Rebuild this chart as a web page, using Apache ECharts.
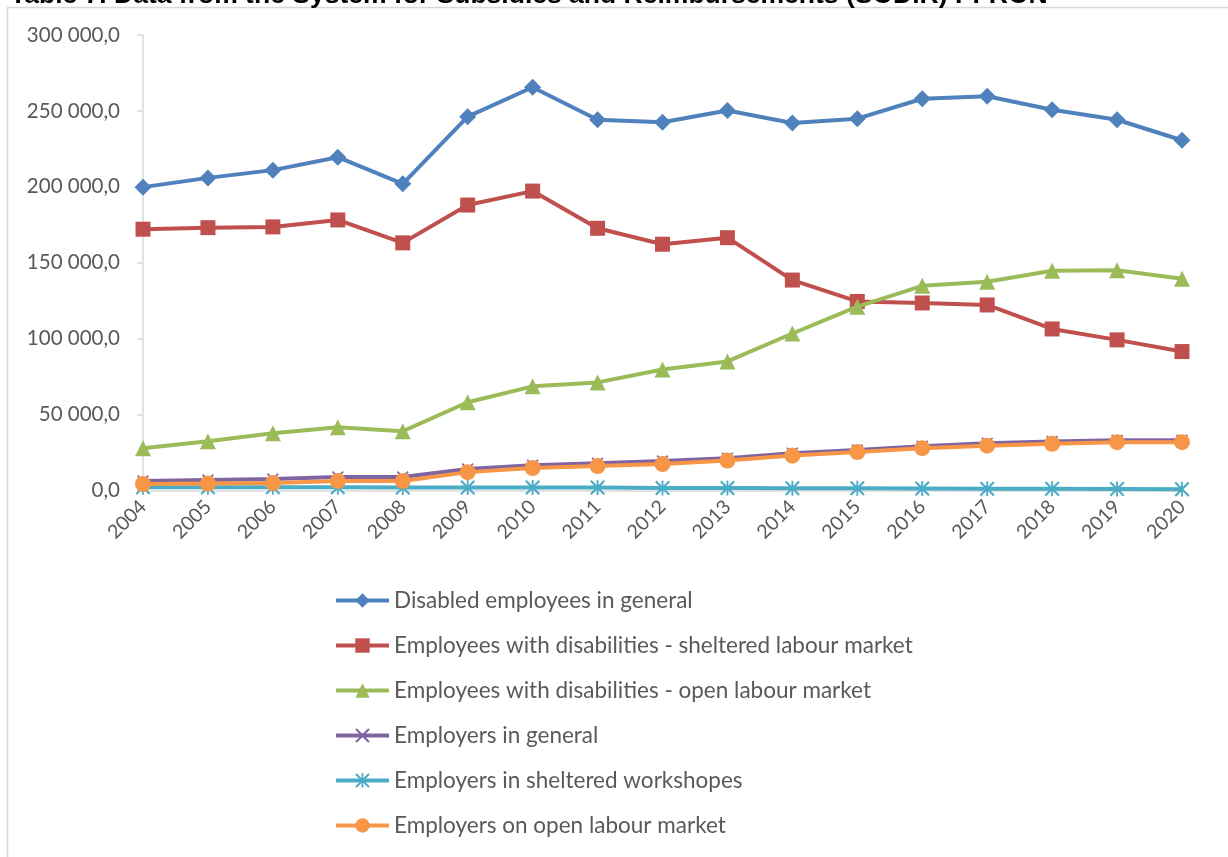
<!DOCTYPE html>
<html>
<head>
<meta charset="utf-8">
<script src="https://cdn.jsdelivr.net/npm/echarts@6/dist/echarts.min.js"></script>
<style>
  html, body { margin: 0; padding: 0; background: #ffffff; }
  #chart { width: 1228px; height: 857px; }
</style>
</head>
<body>
<div id="chart"></div>
<script>
// Years on the horizontal axis
const years = ['2004','2005','2006','2007','2008','2009','2010','2011','2012','2013','2014','2015','2016','2017','2018','2019','2020'];

// Series values (persons / entities)
const disabledEmployeesGeneral = [199800, 205900, 211000, 219500, 202000, 246200, 265600, 244200, 242500, 250300, 242000, 244900, 258000, 259700, 250800, 244200, 230700];
const employeesSheltered      = [172100, 173100, 173600, 178200, 163100, 188000, 197200, 172700, 162200, 166500, 138600, 124500, 123500, 122200, 106400, 99200, 91500];
const employeesOpen           = [27900, 32500, 37700, 41700, 39000, 58100, 68600, 71200, 79700, 85000, 103400, 121100, 134800, 137500, 144700, 145000, 139400];
const employersGeneral        = [6200, 6900, 7500, 8900, 8900, 14100, 16700, 18000, 19400, 21300, 24600, 26600, 29200, 31200, 32200, 33100, 33100];
const employersSheltered      = [2100, 2100, 2100, 2100, 2000, 2000, 2000, 1900, 1700, 1600, 1500, 1400, 1300, 1200, 1100, 1000, 900];
const employersOpen           = [4300, 4600, 4900, 6200, 6200, 12100, 14800, 16100, 17400, 19700, 23000, 25300, 27900, 29500, 30800, 31800, 31800];

const seriesNames = [
  'Disabled employees in general',
  'Employees with disabilities - sheltered labour market',
  'Employees with disabilities - open labour market',
  'Employers in general',
  'Employers in sheltered workshopes',
  'Employers on open labour market'
];

const titleText = 'Table 7. Data from the System for Subsidies and Reimbursements (SODiR) PFRON';

// Marker shapes: an "x" cross and an asterisk drawn as filled thin paths
const xMark = 'path://M1,0 L5,4 L9,0 L10,1 L6,5 L10,9 L9,10 L5,6 L1,10 L0,9 L4,5 L0,1 Z';
const starMark = 'path://M1,0 L5,4 L9,0 L10,1 L6,5 L10,9 L9,10 L5,6 L1,10 L0,9 L4,5 L0,1 Z M4.4,0 L5.6,0 L5.6,10 L4.4,10 Z';

const colors = ['#4F81BD', '#C0504D', '#9BBB59', '#8064A2', '#4BACC6', '#F79646'];
const symbols = ['diamond', 'rect', 'triangle', xMark, starMark, 'circle'];
const symbolSizes = [17, 15, 16, 12, 15, 16];
const values = [disabledEmployeesGeneral, employeesSheltered, employeesOpen, employersGeneral, employersSheltered, employersOpen];

function fmt(v) {
  const intPart = Math.round(v).toString().replace(/\B(?=(\d{3})+$)/g, ' ');
  return intPart + ',0';
}

const chart = echarts.init(document.getElementById('chart'), null, { renderer: 'canvas' });

chart.setOption({
  backgroundColor: '#ffffff',
  animation: false,
  color: colors,
  graphic: [
    {
      type: 'rect',
      shape: { x: 7.5, y: 7.5, width: 1240, height: 870 },
      style: { fill: 'none', stroke: '#d9d9d9', lineWidth: 1.5 },
      silent: true
    },
    {
      type: 'text',
      x: 10,
      y: -18,
      style: {
        text: titleText,
        font: 'bold 26.5px "Liberation Sans", Arial, sans-serif',
        fill: '#000000',
        verticalAlign: 'top'
      },
      silent: true
    }
  ],
  grid: { left: 143, right: 46, top: 35, bottom: 366.5, containLabel: false },
  legend: {
    orient: 'vertical',
    left: 334,
    top: 588,
    padding: 0,
    itemWidth: 53,
    itemHeight: 18,
    itemGap: 20,
    lineStyle: { width: 4 },
    textStyle: { color: '#595959', fontSize: 22.5, fontFamily: 'Lato, "Open Sans", sans-serif', lineHeight: 25 },
    data: seriesNames
  },
  xAxis: {
    type: 'category',
    data: years,
    boundaryGap: false,
    axisLine: { show: true, lineStyle: { color: '#d9d9d9', width: 1.5 } },
    axisTick: { show: false },
    splitLine: { show: false },
    axisLabel: {
      rotate: 45,
      margin: 13,
      color: '#595959',
      fontSize: 19.5,
      fontFamily: 'Lato, "Open Sans", sans-serif'
    }
  },
  yAxis: {
    type: 'value',
    min: 0,
    max: 300000,
    interval: 50000,
    axisLine: { show: true, lineStyle: { color: '#d9d9d9', width: 1.5 } },
    axisTick: { show: true, length: 6, lineStyle: { color: '#d9d9d9', width: 1.5 } },
    splitLine: { show: false },
    axisLabel: {
      margin: 23,
      color: '#595959',
      fontSize: 20.5,
      fontFamily: 'Lato, "Open Sans", sans-serif',
      formatter: fmt
    }
  },
  series: values.map((vals, i) => ({
    name: seriesNames[i],
    type: 'line',
    data: vals,
    symbol: symbols[i],
    symbolSize: symbolSizes[i],
    showAllSymbol: true,
    lineStyle: { width: 4, color: colors[i] },
    itemStyle: { color: colors[i] },
    z: 2 + i
  }))
});
</script>
</body>
</html>
